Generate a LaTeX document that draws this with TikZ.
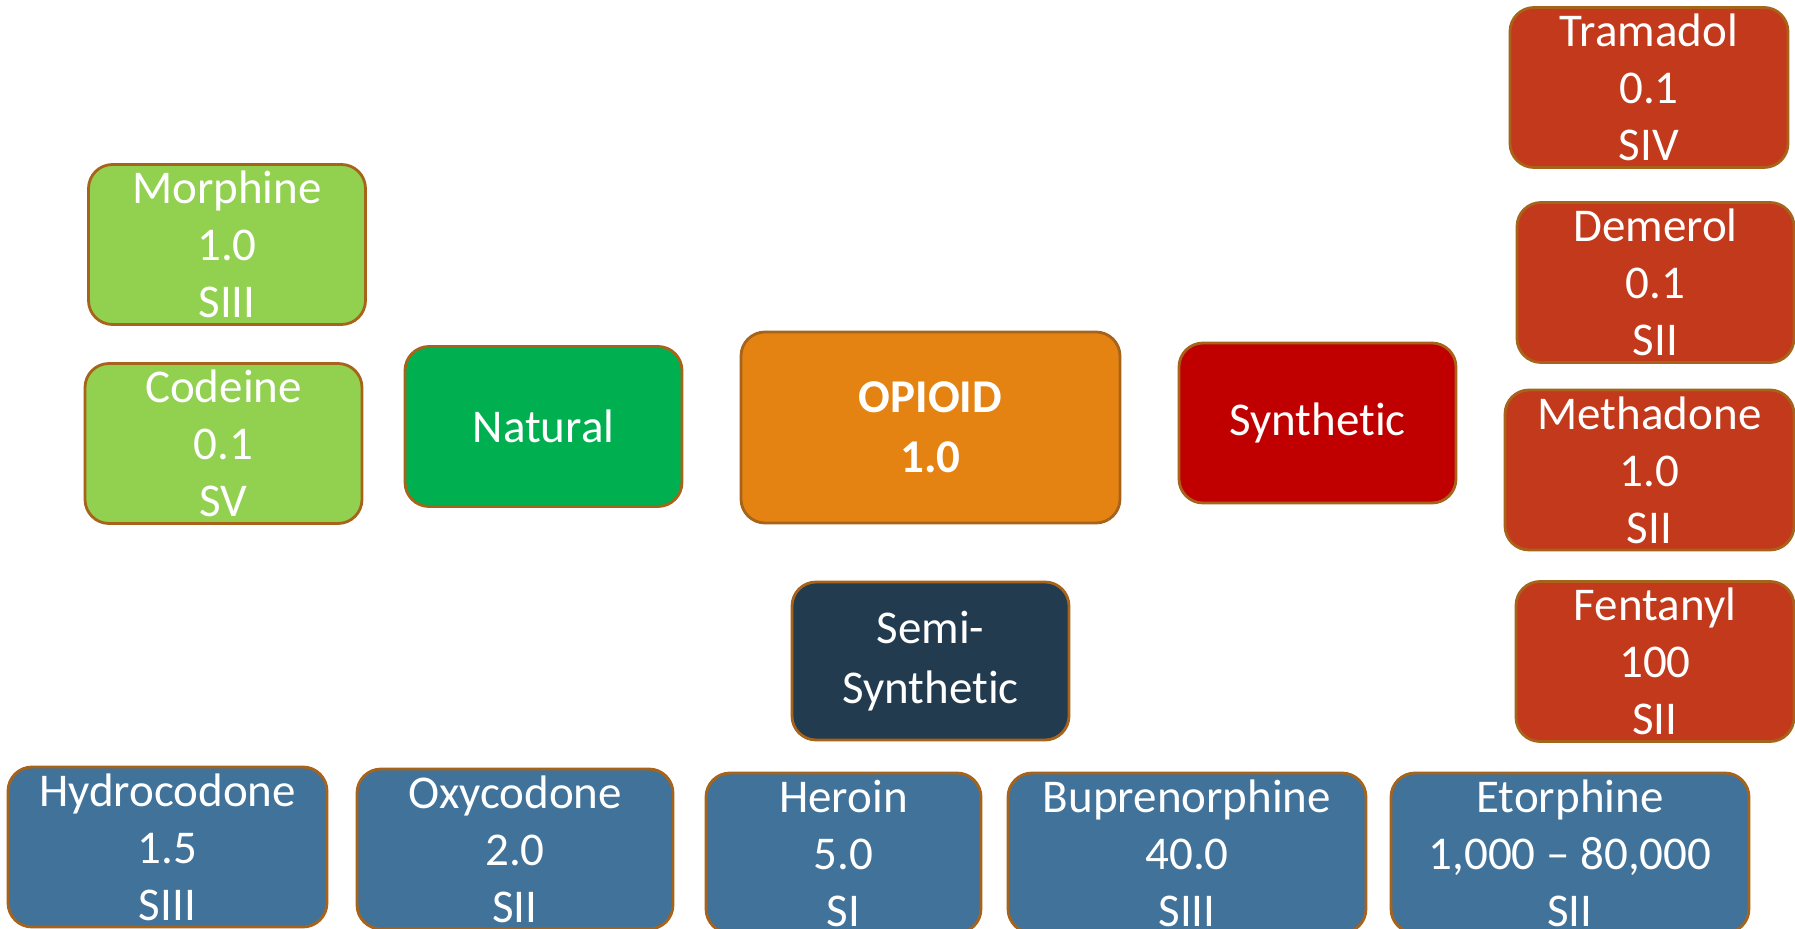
\documentclass[tikz,border=0pt]{standalone}
\usepackage{fontspec}
\setmainfont{Carlito}[Ligatures={NoCommon}]
\usetikzlibrary{positioning}
\definecolor{Edge}{HTML}{A8631A}
\definecolor{Leaf}{HTML}{92D050}
\definecolor{Nat}{HTML}{00B050}
\definecolor{Opi}{HTML}{E48312}
\definecolor{Syn}{HTML}{C00000}
\definecolor{Semi}{HTML}{223B4F}
\definecolor{SemiDrug}{HTML}{41729A}
\definecolor{SynDrug}{HTML}{C3391B}

\begin{document}
\begin{tikzpicture}[
  box/.style={rounded corners=12pt, draw=Edge, line width=1.4pt, text=white, align=center, inner sep=0pt, minimum width=138.5pt, minimum height=80pt, font=\fontsize{23.5}{28.5}\selectfont},
  classbox/.style={box, font=\fontsize{23.5}{30}\selectfont} ]

\useasboundingbox (0,0) rectangle (897.5pt,-464.5pt);

\node[classbox, fill=Opi, minimum width=189.5pt, minimum height=95.5pt] (opioid) at (465.25pt,-213.75pt) {\textbf{OPIOID}\\ \textbf{1.0}};
\node[classbox, fill=Nat] (natural) at (271.75pt,-213.25pt) {Natural};
\node[classbox, fill=Syn] (synthetic) at (658.75pt,-211.5pt) {Synthetic};
\node[classbox, fill=Semi, minimum height=79pt] (semi) at (465.25pt,-330.5pt) {Semi-\\ Synthetic};

\node[box, fill=Leaf] (morphine) at (113.5pt,-122.25pt) {Morphine\\ 1.0\\ SIII};
\node[box, fill=Leaf] (codeine) at (111.75pt,-221.75pt) {Codeine\\ 0.1\\ SV};

\node[box, fill=SynDrug, minimum width=139pt] (tramadol) at (824.5pt,-43.75pt) {Tramadol\\ 0.1\\ SIV};
\node[box, fill=SynDrug] (demerol) at (827.75pt,-141.25pt) {Demerol\\ 0.1\\ SII};
\node[box, fill=SynDrug, minimum width=144.5pt] (methadone) at (824.75pt,-235pt) {Methadone\\ 1.0\\ SII};
\node[box, fill=SynDrug, minimum width=139pt] (fentanyl) at (827.5pt,-330.75pt) {Fentanyl\\ 100\\ SII};

\node[box, fill=SemiDrug, minimum width=159.5pt] (hydrocodone) at (83.75pt,-423.5pt) {Hydrocodone\\ 1.5\\ SIII};
\node[box, fill=SemiDrug, minimum width=158pt] (oxycodone) at (257.5pt,-424.5pt) {Oxycodone\\ 2.0\\ SII};
\node[box, fill=SemiDrug, minimum width=137.5pt] (heroin) at (421.75pt,-426.5pt) {Heroin\\ 5.0\\ SI};
\node[box, fill=SemiDrug, minimum width=179pt] (buprenorphine) at (593.5pt,-426.5pt) {Buprenorphine\\ 40.0\\ SIII};
\node[box, fill=SemiDrug, minimum width=179pt] (etorphine) at (785pt,-426.5pt) {Etorphine\\ 1,000 -- 80,000\\ SII};

\end{tikzpicture}
\end{document}
